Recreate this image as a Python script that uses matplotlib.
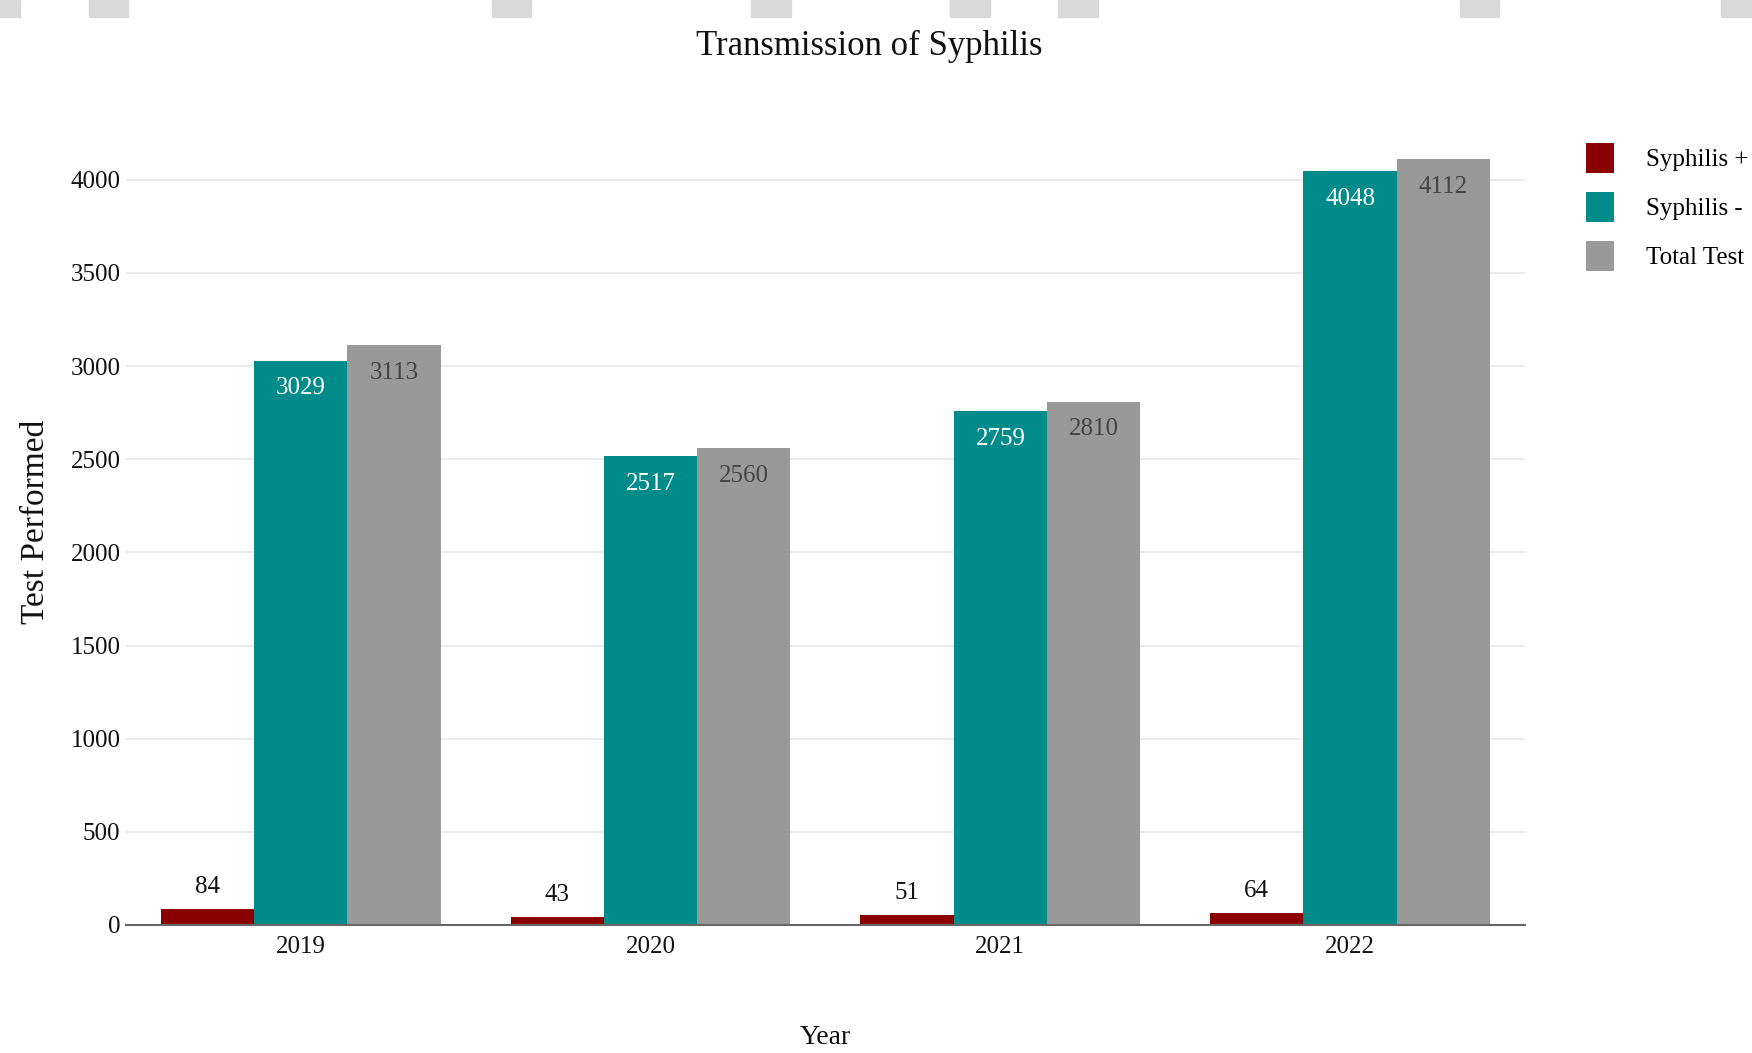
import matplotlib.pyplot as plt
import matplotlib.patches as mpatches
import numpy as np

plt.rcParams['font.family'] = ['Liberation Serif', 'DejaVu Serif']

years = ["2019", "2020", "2021", "2022"]
syphilis_pos = [84, 43, 51, 64]
syphilis_neg = [3029, 2517, 2759, 4048]
total_test = [3113, 2560, 2810, 4112]

series_names = ["Syphilis +", "Syphilis -", "Total Test"]
colors = ["#8b0000", "#008b8b", "#999999"]

fig = plt.figure(figsize=(17.52, 10.53), dpi=100)
ax = fig.add_axes([0.0719, 0.1216, 0.7985, 0.766])

# grey dashes along the top edge
for x0, x1 in [(0, 20), (89, 128), (492, 531), (751, 791), (950, 990),
               (1058, 1098), (1460, 1499), (1721, 1752)]:
    fig.patches.append(mpatches.Rectangle((x0 / 1752, 1 - 17 / 1053), (x1 - x0) / 1752, 17 / 1053,
                                          transform=fig.transFigure, color="#d9d9d9", zorder=0))

x = np.arange(len(years))
w = 0.8 / 3
b1 = ax.bar(x - w, syphilis_pos, w, color=colors[0], label=series_names[0], zorder=2)
b2 = ax.bar(x, syphilis_neg, w, color=colors[1], label=series_names[1], zorder=2)
b3 = ax.bar(x + w, total_test, w, color=colors[2], label=series_names[2], zorder=2)

for r, v in zip(b1, syphilis_pos):
    ax.annotate(str(v), (r.get_x() + r.get_width() / 2, v), xytext=(0, 8), textcoords="offset points",
                ha="center", va="bottom", fontsize=18, color="#111111")
for r, v in zip(b2, syphilis_neg):
    ax.annotate(str(v), (r.get_x() + r.get_width() / 2, v), xytext=(0, -20), textcoords="offset points",
                ha="center", va="center", fontsize=18, color="white")
for r, v in zip(b3, total_test):
    ax.annotate(str(v), (r.get_x() + r.get_width() / 2, v), xytext=(0, -20), textcoords="offset points",
                ha="center", va="center", fontsize=18, color="#444444")

ax.set_xlim(-0.5, 3.5)
ax.set_ylim(0, 4330)
ax.set_yticks(range(0, 4001, 500))
ax.set_xticks(x)
ax.set_xticklabels(years)
ax.tick_params(axis="both", length=0, labelsize=18, colors="#111111")
ax.tick_params(axis="y", pad=4)
ax.tick_params(axis="x", pad=8)
ax.grid(axis="y", color="#e8e8e8", linewidth=1.2, zorder=0)
ax.set_axisbelow(True)
for s in ["top", "right", "left"]:
    ax.spines[s].set_visible(False)
ax.spines["bottom"].set_color("#666666")
ax.spines["bottom"].set_linewidth(1.5)
ax.spines["bottom"].set_zorder(3)

ax.set_xlabel("Year", fontsize=20, color="#111111", labelpad=48)
ax.set_ylabel("Test Performed", fontsize=24, color="#111111", labelpad=14)
fig.text(869 / 1752, 1 - 46 / 1053, "Transmission of Syphilis", ha="center", va="center",
         fontsize=25, color="#111111")

fig.legend(loc="upper left", bbox_to_anchor=(1586 / 1752, 1 - 143 / 1053), frameon=False,
           fontsize=18, handlelength=1.12, handleheight=1.45, handletextpad=1.3,
           labelspacing=0.78, borderpad=0, borderaxespad=0)

fig.savefig("out.png", dpi=100)
